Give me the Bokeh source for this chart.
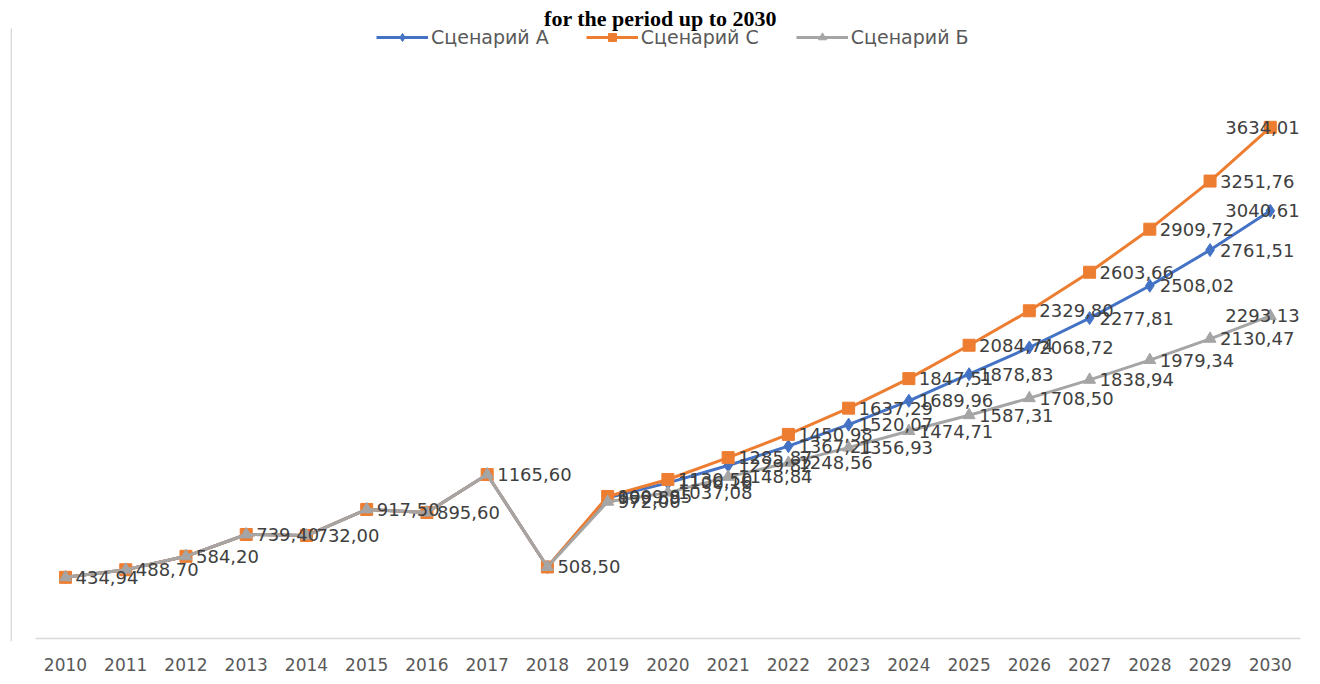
from bokeh.plotting import figure
from bokeh.models import Range1d, FixedTicker, Legend, LegendItem, ColumnDataSource
from bokeh.embed import file_html
from bokeh.resources import INLINE
from bokeh.core.properties import value

# ---------------- data ----------------
title_text = ["for the period up to 2030"]
series_names = ["Сценарий А", "Сценарий С", "Сценарий Б"]
years_hist = [2010, 2011, 2012, 2013, 2014, 2015, 2016, 2017, 2018]
values_hist = [434.94, 488.70, 584.20, 739.40, 732.00, 917.50, 895.60, 1165.60, 508.50]
years_fc = [2019, 2020, 2021, 2022, 2023, 2024, 2025, 2026, 2027, 2028, 2029, 2030]
scen_a = [999.89, 1106.16, 1229.82, 1367.21, 1520.07, 1689.96, 1878.83, 2068.72, 2277.81, 2508.02, 2761.51, 3040.61]
scen_c = [1009.85, 1130.50, 1285.87, 1450.98, 1637.29, 1847.51, 2084.74, 2329.80, 2603.66, 2909.72, 3251.76, 3634.01]
scen_b = [972.00, 1037.08, 1148.84, 1248.56, 1356.93, 1474.71, 1587.31, 1708.50, 1838.94, 1979.34, 2130.47, 2293.13]

# ---------------- layout parameters ----------------
FRAME_W, FRAME_H = 1302, 641
BORDER_LEFT = 10
PX_PER_YEAR = 60.24
FIRST_CENTER_OFFSET = 55.0      # px from frame left to first category
ZERO_FROM_TOP = 638.0           # px from frame top to value 0
PX_PER_UNIT = 0.14067

x_start = years_hist[0] - FIRST_CENTER_OFFSET / PX_PER_YEAR
x_end = x_start + FRAME_W / PX_PER_YEAR
y_end = ZERO_FROM_TOP / PX_PER_UNIT
y_start = -(FRAME_H - ZERO_FROM_TOP) / PX_PER_UNIT
u_per_px = 1.0 / PX_PER_UNIT

BLUE, ORANGE, GRAY = "#4472C4", "#ED7D31", "#A5A5A5"
LABEL_FONT = value("DejaVu Sans")

p = figure(frame_width=FRAME_W, frame_height=FRAME_H, output_backend="svg", toolbar_location=None,
           x_range=Range1d(x_start, x_end), y_range=Range1d(y_start, y_end),
           y_axis_location=None, min_border_left=BORDER_LEFT, min_border_right=0,
           min_border_top=0, min_border_bottom=0)
p.outline_line_color = None
p.xgrid.visible = False
p.ygrid.visible = False
p.background_fill_color = "white"
p.border_fill_color = "white"

all_years = years_hist + years_fc
p.xaxis.ticker = FixedTicker(ticks=all_years)
p.xaxis.major_label_overrides = {y: str(y) for y in all_years}
p.xaxis.axis_line_color = None
p.xaxis.major_tick_line_color = None
p.xaxis.minor_tick_line_color = None
p.xaxis.major_label_standoff = 10
p.xaxis.major_label_text_font = "DejaVu Sans"
p.xaxis.major_label_text_font_size = "17px"
p.xaxis.major_label_text_color = "#595959"

# baseline (category axis line)
p.segment(x0=[years_hist[0] - 0.5], x1=[years_fc[-1] + 0.5], y0=[0], y1=[0],
          line_color="#D9D9D9", line_width=1.5)
# left chart border
bx = x_start + 0.6 / PX_PER_YEAR
p.segment(x0=[bx], x1=[bx], y0=[y_end - 28 * u_per_px], y1=[y_start],
          line_color="#BFBFBF", line_width=1)


def fmt(v):
    return f"{v:.2f}".replace(".", ",")


renderers = {}
specs = [(scen_a, BLUE, "diamond", 13), (scen_c, ORANGE, "square", 12), (scen_b, GRAY, "triangle", 12)]
for name, (fc, col, mk, sz) in zip(series_names, specs):
    src = ColumnDataSource(dict(x=years_hist + years_fc, y=values_hist + fc))
    ln = p.line("x", "y", source=src, line_color=col, line_width=3)
    sc = p.scatter("x", "y", source=src, marker=mk, size=sz, fill_color=col, line_color=col)
    renderers[name] = [ln, sc]

# data labels
label_x, label_y, label_t, label_off = [], [], [], []
for x, v in zip(years_hist, values_hist):
    label_x.append(x); label_y.append(v); label_t.append(fmt(v)); label_off.append(10)
for fc in (scen_a, scen_c, scen_b):
    for i, (x, v) in enumerate(zip(years_fc, fc)):
        label_x.append(x); label_y.append(v); label_t.append(fmt(v))
        label_off.append(-45 if i == len(years_fc) - 1 else 10)
lsrc = ColumnDataSource(dict(x=label_x, y=label_y, t=label_t, off=label_off))
p.text("x", "y", text="t", source=lsrc, x_offset="off", text_baseline="middle",
       text_align="left", text_font=LABEL_FONT, text_font_size="18px", text_color="#404040")

# title
title_x = x_start + (660 - BORDER_LEFT) / PX_PER_YEAR
p.text(x=[title_x], y=[y_end - 18 * u_per_px], text=title_text, text_align="center",
       text_baseline="alphabetic", text_font=value("Liberation Serif"),
       text_font_size="22px", text_font_style="bold", text_color="#000000")

legend = Legend(items=[LegendItem(label=n, renderers=renderers[n]) for n in series_names],
                orientation="horizontal", location=(366, FRAME_H - 48),
                glyph_width=52, glyph_height=20, label_standoff=3, spacing=37,
                padding=0, margin=0, border_line_alpha=0, background_fill_alpha=0,
                label_text_font="DejaVu Sans", label_text_font_size="19px",
                label_text_color="#595959")
p.add_layout(legend)

open("out.html", "w").write(file_html(p, INLINE))
